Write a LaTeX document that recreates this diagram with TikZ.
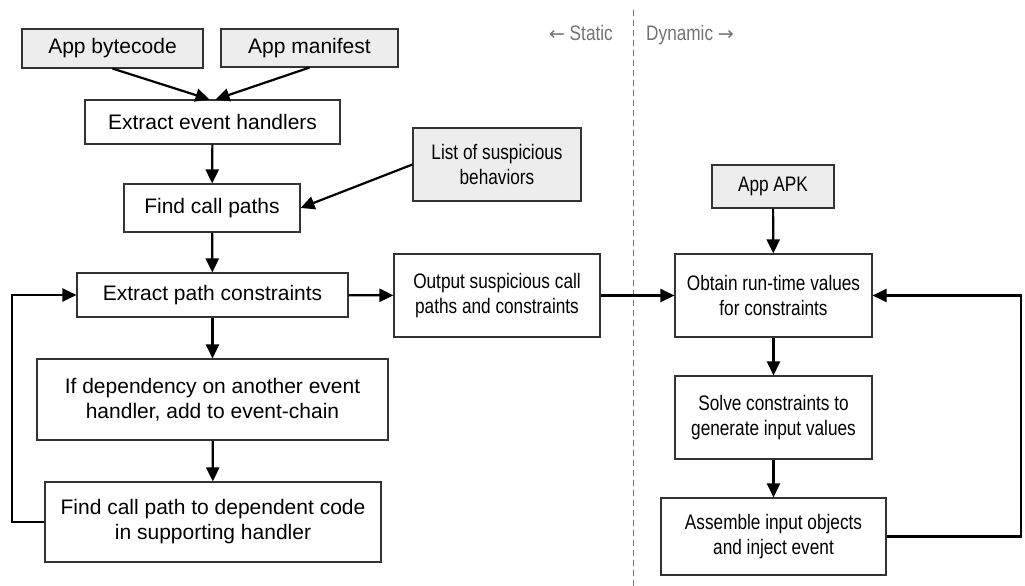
\documentclass[tikz,border=0pt]{standalone}
\usepackage{fontspec}
\setmainfont{Liberation Sans}
\newfontfamily\narrowfont[FakeStretch=0.82]{Liberation Sans}
\newfontfamily\arrowfont{DejaVu Sans}
\usetikzlibrary{arrows.meta}
\begin{document}
\begin{tikzpicture}[x=1pt,y=-1pt,
  box/.style={draw=black!80, line width=1.1pt, align=center, inner sep=0pt, font=\fontsize{21}{25}\selectfont},
  inbox/.style={box, fill=black!7},
  nbox/.style={box, font=\narrowfont\fontsize{21}{25}\selectfont},
  ninbox/.style={nbox, fill=black!7},
  conn/.style={line width=2.2pt, -{Triangle[length=14pt,width=13pt]}},
  side/.style={text=black!55, inner sep=0pt, font=\narrowfont\fontsize{21}{25}\selectfont}]
\useasboundingbox (0,0) rectangle (1025,586);

% static side
\node[inbox, minimum width=181pt, minimum height=39pt] (bytecode) at (112.5,48.5) {App bytecode};
\node[inbox, minimum width=177pt, minimum height=38pt] (manifest) at (309.5,48) {App manifest};
\node[box, minimum width=255pt, minimum height=44pt] (extev) at (212.5,122) {Extract event handlers};
\node[box, minimum width=176pt, minimum height=48pt] (findcp) at (212,208) {Find call paths};
\node[ninbox, minimum width=168pt, minimum height=73pt] (list) at (497,164.5) {List of suspicious\\behaviors};
\node[box, minimum width=271pt, minimum height=44pt] (extp) at (212.5,295) {Extract path constraints};
\node[nbox, minimum width=206pt, minimum height=83pt] (output) at (497,295.5) {Output suspicious call\\paths and constraints};
\node[box, minimum width=351pt, minimum height=81pt] (ifdep) at (212.5,399.5) {If dependency on another event\\handler, add to event-chain};
\node[box, minimum width=336pt, minimum height=80pt] (findpath) at (213,522) {Find call path to dependent code\\in supporting handler};

% dynamic side
\node[ninbox, minimum width=122pt, minimum height=43pt] (apk) at (773,186.5) {App APK};
\node[nbox, minimum width=197pt, minimum height=83pt] (obtain) at (773.5,295.5) {Obtain run-time values\\for constraints};
\node[nbox, minimum width=197pt, minimum height=83pt] (solve) at (773.5,417.5) {Solve constraints to\\generate input values};
\node[nbox, minimum width=225pt, minimum height=77pt] (assemble) at (773.5,536.5) {Assemble input objects\\and inject event};

% divider
\coordinate (dtop) at (633,10);
\coordinate (dbot) at (633,586);
\draw[black!55, line width=0.8pt, dash pattern=on 6pt off 4pt] (dtop) -- (dbot);
\node[side, anchor=base east] (static) at (613,41) {{\arrowfont\fontsize{19}{25}\selectfont ←} Static};
\node[side, anchor=base west] (dynamic) at (646,41) {Dynamic {\arrowfont\fontsize{19}{25}\selectfont →}};

% connectors
\draw[conn] (bytecode.south) -- ([xshift=-3pt]extev.north);
\draw[conn] (manifest.south) -- ([xshift=3pt]extev.north);
\draw[conn] (extev) -- (findcp);
\draw[conn] (list.west) -- (findcp.east);
\draw[conn] (findcp) -- (extp);
\draw[conn] (extp) -- (ifdep);
\draw[conn] (ifdep) -- (findpath);
\draw[conn] (extp) -- (output);
\draw[conn] (output) -- (obtain);
\draw[conn] (apk) -- (obtain);
\draw[conn] (obtain) -- (solve);
\draw[conn] (solve) -- (assemble);
\coordinate (lbend) at (12,0);
\coordinate (rbend) at (1021,0);
\draw[conn] (findpath.west) -- (findpath.west -| lbend) |- (extp.west);
\draw[conn] (assemble.east) -- (assemble.east -| rbend) |- (obtain.east);
\end{tikzpicture}
\end{document}
